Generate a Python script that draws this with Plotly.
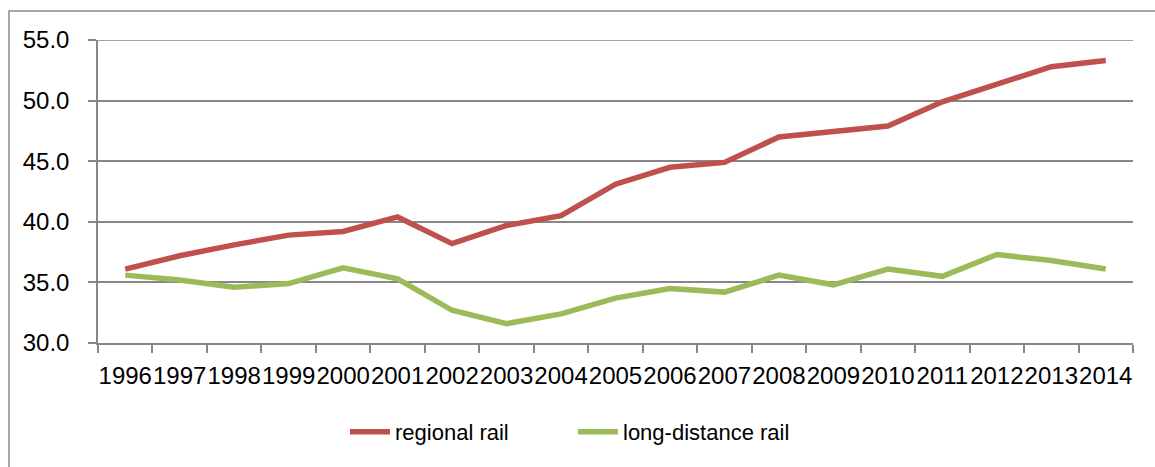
import plotly.graph_objects as go

years = [str(y) for y in range(1996, 2015)]
regional_rail = [36.1, 37.2, 38.1, 38.9, 39.2, 40.4, 38.2, 39.7, 40.5, 43.1,
                 44.5, 44.9, 47.0, 47.4, 47.9, 49.9, 51.4, 52.8, 53.3]
long_distance_rail = [35.6, 35.2, 34.6, 34.9, 36.2, 35.3, 32.7, 31.6, 32.4, 33.7,
                      34.5, 34.2, 35.6, 34.8, 36.1, 35.5, 37.3, 36.8, 36.1]
y_ticks = [30, 35, 40, 45, 50, 55]

FONT = "Liberation Sans"
GRID = "#878787"
FS = 24

fig = go.Figure()
fig.add_trace(go.Scatter(x=years, y=regional_rail, mode="lines", name="regional rail",
                         line=dict(color="#C0504D", width=5.5)))
fig.add_trace(go.Scatter(x=years, y=long_distance_rail, mode="lines", name="long-distance rail",
                         line=dict(color="#9BBB59", width=5.5)))

L, R, T, B = 98, 22, 40, 124
W, H = 1155, 467
pw, ph = W - L - R, H - T - B

def px_x(p):
    return (p - L) / pw

def px_y(p):
    return (H - B - p) / ph

fig.update_layout(
    width=W, height=H,
    margin=dict(l=L, r=R, t=T, b=B),
    paper_bgcolor="white", plot_bgcolor="white",
    font=dict(family=FONT, size=FS, color="black"),
    showlegend=True,
    legend=dict(orientation="h", x=px_x(345), xanchor="left", y=px_y(432), yanchor="middle",
                font=dict(family=FONT, size=22, color="black"), itemwidth=40,
                entrywidth=173, entrywidthmode="pixels",
                bgcolor="rgba(0,0,0,0)"),
    shapes=[dict(type="rect", xref="paper", yref="paper",
                 x0=px_x(9), x1=px_x(1170), y0=px_y(480), y1=px_y(11),
                 line=dict(color="#8a8a8a", width=1.5), fillcolor="rgba(0,0,0,0)", layer="below")],
)
fig.update_xaxes(
    type="category", range=[-0.5, len(years) - 0.5], tickangle=0, tickson="boundaries",
    ticks="outside", ticklen=8, tickcolor=GRID, tickwidth=1.5,
    showline=True, linecolor=GRID, linewidth=1.5, automargin=False,
    showgrid=False, tickfont=dict(family=FONT, size=FS, color="black"),
    ticklabelstandoff=10,
)
fig.update_yaxes(
    range=[30, 55], tickvals=y_ticks, tickformat=".1f",
    ticks="outside", ticklen=8, tickcolor=GRID, tickwidth=1.5,
    showline=True, linecolor=GRID, linewidth=1.5, automargin=False,
    showgrid=True, gridcolor=GRID, gridwidth=1.5, zeroline=False,
    tickfont=dict(family=FONT, size=FS, color="black"),
    ticklabelstandoff=14,
)
fig.add_shape(type="line", xref="paper", yref="y", x0=0, x1=1, y0=55, y1=55,
              line=dict(color=GRID, width=1.5))

fig.write_html("out.html", config={"displayModeBar": False},
               post_script="document.body.style.margin='0';document.body.style.overflow='hidden';")
